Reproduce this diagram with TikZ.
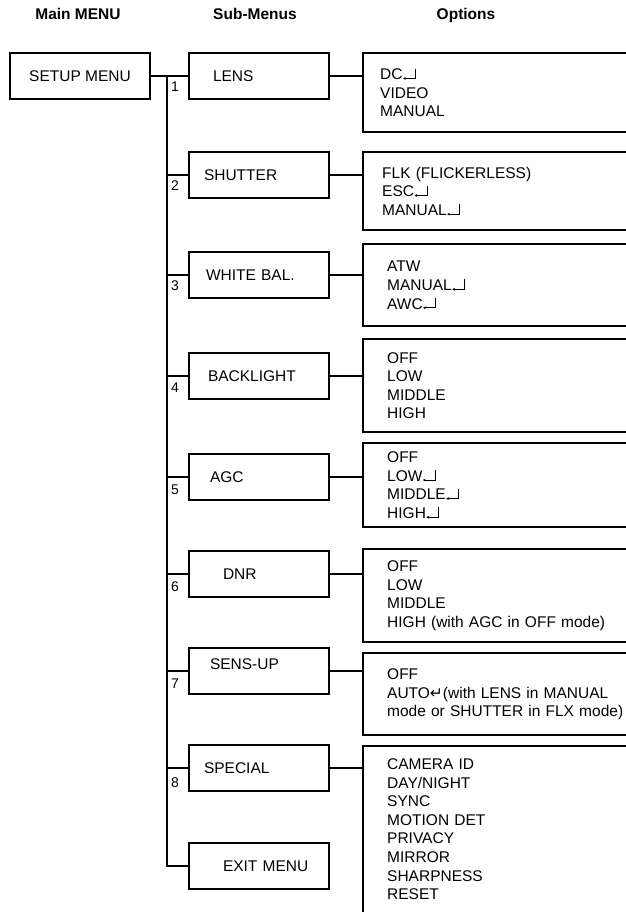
\documentclass[tikz,border=0pt]{standalone}
\usepackage{fontspec}
\setmainfont{Liberation Sans}
\newfontfamily\dejavu{DejaVu Sans}
\usetikzlibrary{arrows.meta}

% small return mark after a setting
\newcommand{\ent}{\tikz[baseline=0pt]\draw[line width=.9pt,-{Stealth[length=2.6pt,width=2.8pt]}] (14pt,11pt) -- (14pt,1.2pt) -- (1.5pt,1.2pt);}

\begin{document}
\begin{tikzpicture}[
        x=1pt,y=-1pt,
        every node/.style={font=\fontsize{15.5}{18.6}\selectfont},
        mainbox/.style={draw,line width=2pt,minimum width=140pt,minimum height=46pt},
        box/.style={draw,line width=2pt,minimum height=46pt,text width=110pt,inner xsep=15pt,align=left},
        opt/.style={anchor=north west,text width=250pt,inner xsep=24pt,align=left},
        num/.style={anchor=base west,inner sep=0pt,font=\fontsize{14}{14}\selectfont},
        head/.style={anchor=base,font=\bfseries\fontsize{15.5}{18.6}\selectfont},
        ln/.style={line width=2pt}
    ]
    \useasboundingbox (0,0) rectangle (625,914);
    \coordinate (E) at (627,0);

    \node[head] (hmain) at (78,19) {Main MENU};
    \node[head] (hsub) at (255,19) {Sub-Menus};
    \node[head] (hopt) at (466,19) {Options};

    \node[mainbox] (setup) at (80,76) {SETUP MENU};

    % sub-menus
    \node[box] (lens) at (259,76) {\hspace*{9pt}LENS};
    \node[box] (shutter) at (259,175) {SHUTTER};
    \node[box] (wbal) at (259,275) {\hspace*{2pt}WHITE BAL.};
    \node[box] (blight) at (259,376) {\hspace*{4pt}BACKLIGHT};
    \node[box] (agc) at (259,477) {\hspace*{6pt}AGC};
    \node[box] (dnr) at (259,574) {\hspace*{19pt}DNR};
    \node[box] (sens) at (259,671) {\hspace*{6pt}\raisebox{7pt}[11pt][0pt]{SENS-UP}};
    \node[box] (special) at (259,768) {SPECIAL};
    \node[box] (exit) at (259,866) {\hspace*{19pt}EXIT MENU};

    % trunk
    \coordinate (T) at (167,76);
    \draw[ln] (setup.east) -- (lens.west);
    \draw[ln] (T) -- (T |- exit.west) -- (exit.west);
    \draw[ln] (T |- shutter.west) -- (shutter.west);
    \draw[ln] (T |- wbal.west) -- (wbal.west);
    \draw[ln] (T |- blight.west) -- (blight.west);
    \draw[ln] (T |- agc.west) -- (agc.west);
    \draw[ln] (T |- dnr.west) -- (dnr.west);
    \draw[ln] (T |- sens.west) -- (sens.west);
    \draw[ln] (T |- special.west) -- (special.west);

    \node[num] (n1) at (171,91.5) {1};
    \node[num] (n2) at (171,190.5) {2};
    \node[num] (n3) at (171,290.5) {3};
    \node[num] (n4) at (171,392.5) {4};
    \node[num] (n5) at (171,494.5) {5};
    \node[num] (n6) at (171,591.5) {6};
    \node[num] (n7) at (171,688.5) {7};
    \node[num] (n8) at (171,787.5) {8};

    % options
    \node[opt,inner xsep=17pt,minimum height=79pt] (o1) at (363,53) {DC\ent\\VIDEO\\MANUAL};
    \node[opt,inner xsep=19pt,minimum height=78pt] (o2) at (363,152) {FLK (FLICKERLESS)\\ESC\ent\\MANUAL\ent};
    \node[opt,minimum height=82pt] (o3) at (363,244) {ATW\\MANUAL\ent\\AWC\ent};
    \node[opt,minimum height=93pt] (o4) at (363,339) {OFF\\LOW\\MIDDLE\\HIGH};
    \node[opt,minimum height=84pt] (o5) at (363,443) {OFF\\LOW\ent\\MIDDLE\ent\\HIGH\ent};
    \node[opt,minimum height=93pt] (o6) at (363,549) {OFF\\LOW\\MIDDLE\\HIGH (with AGC in OFF mode)};
    \node[opt,minimum height=82pt] (o7) at (363,653) {OFF\\AUTO{\dejavu ↵}(with LENS in MANUAL\\mode or SHUTTER in FLX mode)};
    \node[opt,minimum height=166pt] (o8) at (363,746) {CAMERA ID\\DAY/NIGHT\\SYNC\\MOTION DET\\PRIVACY\\MIRROR\\SHARPNESS\\RESET};

    \draw[ln] (o1.north west -| E) -- (o1.north west) -- (o1.south west) -- (o1.south west -| E);
    \draw[ln] (o2.north west -| E) -- (o2.north west) -- (o2.south west) -- (o2.south west -| E);
    \draw[ln] (o3.north west -| E) -- (o3.north west) -- (o3.south west) -- (o3.south west -| E);
    \draw[ln] (o4.north west -| E) -- (o4.north west) -- (o4.south west) -- (o4.south west -| E);
    \draw[ln] (o5.north west -| E) -- (o5.north west) -- (o5.south west) -- (o5.south west -| E);
    \draw[ln] (o6.north west -| E) -- (o6.north west) -- (o6.south west) -- (o6.south west -| E);
    \draw[ln] (o7.north west -| E) -- (o7.north west) -- (o7.south west) -- (o7.south west -| E);
    \draw[ln] (o8.north west -| E) -- (o8.north west) -- (o8.south west);

    \draw[ln] (lens.east) -- (lens.east -| o1.west);
    \draw[ln] (shutter.east) -- (shutter.east -| o2.west);
    \draw[ln] (wbal.east) -- (wbal.east -| o3.west);
    \draw[ln] (blight.east) -- (blight.east -| o4.west);
    \draw[ln] (agc.east) -- (agc.east -| o5.west);
    \draw[ln] (dnr.east) -- (dnr.east -| o6.west);
    \draw[ln] (sens.east) -- (sens.east -| o7.west);
    \draw[ln] (special.east) -- (special.east -| o8.west);
\end{tikzpicture}
\end{document}
